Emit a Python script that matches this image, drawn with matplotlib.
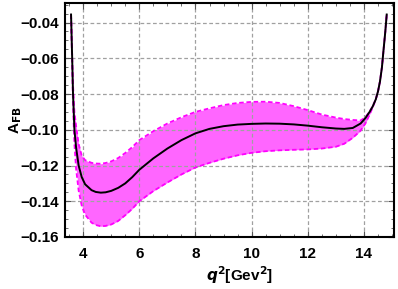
import matplotlib

matplotlib.use("Agg")
import matplotlib.pyplot as plt
from matplotlib.ticker import MultipleLocator

plt.rcParams["font.family"] = ["Liberation Sans", "DejaVu Sans"]

# q^2 grid and A_FB values
q2 = [3.57, 3.61, 3.64, 3.69, 3.75, 3.84, 3.95, 4.07, 4.30, 4.45, 4.63, 4.80,
      5.00, 5.25, 5.50, 5.75, 6.00, 6.50, 7.00, 7.50, 8.00, 8.50, 9.00, 9.50,
      10.00, 10.50, 11.00, 11.50, 12.00, 12.50, 13.00, 13.30, 13.60, 13.88,
      14.05, 14.20, 14.31, 14.42, 14.50, 14.57, 14.64, 14.69, 14.76, 14.81]
afb_central = [-0.0355, -0.060, -0.080, -0.100, -0.110, -0.120, -0.1265, -0.1305,
               -0.1338, -0.1348, -0.1352, -0.1350, -0.1342, -0.1325, -0.1300,
               -0.1265, -0.1224, -0.1160, -0.1105, -0.1058, -0.1020, -0.0995,
               -0.0980, -0.0971, -0.0967, -0.0965, -0.0966, -0.0970, -0.0977,
               -0.0986, -0.0993, -0.0995, -0.0990, -0.0965, -0.0935, -0.0900,
               -0.0870, -0.0830, -0.0785, -0.0730, -0.0650, -0.0565, -0.0450,
               -0.0355]
afb_upper = [-0.0355, -0.058, -0.075, -0.090, -0.098, -0.108, -0.1145, -0.1170,
             -0.1185, -0.1189, -0.1190, -0.1186, -0.1177, -0.1158, -0.1130,
             -0.1097, -0.1058, -0.1008, -0.0965, -0.0930, -0.0900, -0.0880,
             -0.0862, -0.0850, -0.0844, -0.0843, -0.0850, -0.0868, -0.0890,
             -0.0915, -0.0932, -0.0940, -0.0945, -0.0948, -0.0930, -0.0898,
             -0.0868, -0.0830, -0.0785, -0.0730, -0.0650, -0.0565, -0.0450,
             -0.0355]
afb_lower = [-0.0355, -0.064, -0.086, -0.108, -0.122, -0.134, -0.1425, -0.1475,
             -0.1520, -0.1533, -0.1540, -0.1538, -0.1530, -0.1510, -0.1478,
             -0.1442, -0.1400, -0.1343, -0.1295, -0.1250, -0.1211, -0.1185,
             -0.1162, -0.1143, -0.1129, -0.1120, -0.1115, -0.1112, -0.1110,
             -0.1105, -0.1095, -0.1078, -0.1045, -0.1005, -0.0965, -0.0915,
             -0.0875, -0.0830, -0.0785, -0.0730, -0.0650, -0.0565, -0.0450,
             -0.0355]

fig = plt.figure(figsize=(3.98, 2.89), dpi=100)
ax = fig.add_axes([0.163, 0.180, 0.827, 0.810])

ax.fill_between(q2, afb_lower, afb_upper, color="#ff66ff", linewidth=0)
ax.plot(q2, afb_upper, color="#ff00ff", linestyle=(0, (2.5, 1.5)), linewidth=1.3)
ax.plot(q2, afb_lower, color="#ff00ff", linestyle=(0, (2.5, 1.5)), linewidth=1.3)
ax.plot(q2, afb_central, color="black", linewidth=1.4)

ax.set_xlim(3.35, 15.07)
ax.set_ylim(-0.16, -0.029)
ax.xaxis.set_major_locator(MultipleLocator(2))
ax.xaxis.set_minor_locator(MultipleLocator(0.5))
ax.yaxis.set_major_locator(MultipleLocator(0.02))
ax.yaxis.set_minor_locator(MultipleLocator(0.005))
ax.yaxis.set_major_formatter(plt.FuncFormatter(lambda v, _: f"{v:.2f}".replace("-", "\u2212")))

ax.grid(True, which="major", color="#a0a0a0", linestyle=(0, (3, 2)), linewidth=0.9)
ax.tick_params(which="both", direction="in", top=True, right=True, color="#555555")
ax.tick_params(which="major", length=4, width=0.8, labelsize=11, pad=4)
ax.tick_params(axis="x", which="major", pad=7)
ax.tick_params(which="minor", length=2, width=0.6)
for label in ax.get_xticklabels() + ax.get_yticklabels():
    label.set_fontweight("bold")
for spine in ax.spines.values():
    spine.set_linewidth(1.5)
    spine.set_color("black")

ax.set_xlabel(r"$\boldsymbol{q}^{\mathbf{2}}$[Gev$^{\mathbf{2}}$]", fontsize=11,
              fontweight="bold")
ax.xaxis.set_label_coords(0.53, -0.118)
ax.set_ylabel(r"A$_{\mathbf{FB}}$", fontsize=11, fontweight="bold")
ax.yaxis.set_label_coords(-0.125, 0.5)

fig.savefig("out.png", dpi=100)
